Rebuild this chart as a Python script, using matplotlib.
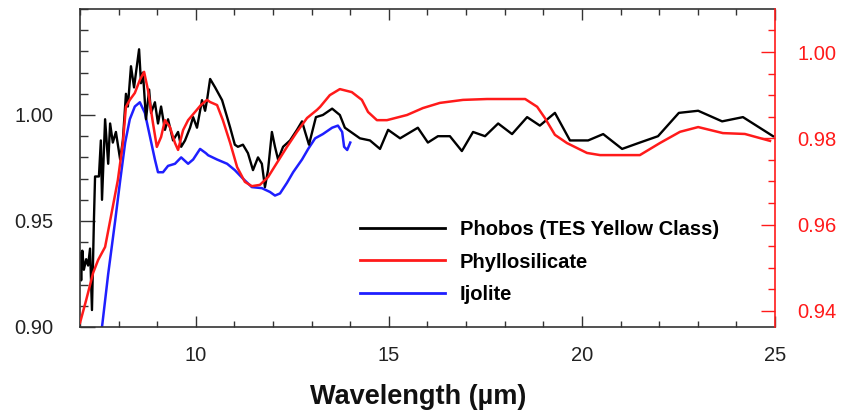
import matplotlib
matplotlib.use("Agg")
import matplotlib.pyplot as plt
from matplotlib.ticker import MultipleLocator, FormatStrFormatter

# ---------------- data ----------------
phobos_x = [7.00, 7.03, 7.06, 7.10, 7.16, 7.21, 7.26, 7.31, 7.36, 7.39, 7.49, 7.54,
            7.57, 7.65, 7.73, 7.78, 7.85, 7.93, 8.04, 8.11, 8.19, 8.24, 8.32, 8.40,
            8.45, 8.53, 8.58, 8.63, 8.71, 8.79, 8.84, 8.94, 9.02, 9.10, 9.20, 9.28,
            9.41, 9.54, 9.62, 9.72, 9.85, 9.93, 10.03, 10.16, 10.24, 10.29, 10.37,
            10.50, 10.68, 10.81, 10.89, 11.01, 11.09, 11.22, 11.35, 11.48, 11.61,
            11.71, 11.79, 11.87, 11.97, 12.05, 12.13, 12.26, 12.44, 12.62, 12.75,
            12.83, 12.93, 13.11, 13.29, 13.53, 13.73, 13.86, 14.25, 14.51, 14.77,
            14.98, 15.29, 15.75, 16.01, 16.27, 16.58, 16.89, 17.18, 17.49, 17.83,
            18.19, 18.58, 18.91, 19.30, 19.69, 20.16, 20.55, 21.04, 21.50, 21.97,
            22.51, 23.01, 23.63, 24.17, 24.95]
phobos_y = [0.935, 0.922, 0.936, 0.927, 0.932, 0.929, 0.937, 0.908, 0.950, 0.971,
            0.971, 0.988, 0.960, 0.998, 0.977, 0.996, 0.987, 0.992, 0.979, 0.988,
            1.010, 1.004, 1.023, 1.013, 1.020, 1.031, 1.015, 1.020, 0.998, 1.012,
            1.001, 1.006, 0.996, 1.004, 0.993, 0.998, 0.988, 0.992, 0.985, 0.988,
            0.994, 0.999, 0.994, 1.007, 1.002, 1.007, 1.017, 1.013, 1.007, 0.999,
            0.994, 0.986, 0.985, 0.986, 0.982, 0.974, 0.980, 0.977, 0.966, 0.974,
            0.992, 0.985, 0.979, 0.985, 0.988, 0.993, 0.997, 0.992, 0.986, 0.999,
            1.000, 1.003, 1.000, 0.994, 0.989, 0.988, 0.984, 0.993, 0.989, 0.994,
            0.987, 0.990, 0.990, 0.983, 0.992, 0.990, 0.996, 0.991, 0.999, 0.995,
            1.001, 0.988, 0.988, 0.991, 0.984, 0.987, 0.990, 1.001, 1.002, 0.997,
            0.999, 0.990]

phyllo_x = [7.00, 7.16, 7.34, 7.47, 7.65, 7.80, 7.98, 8.11, 8.19, 8.29, 8.42, 8.55,
            8.66, 8.76, 8.89, 8.99, 9.10, 9.20, 9.33, 9.46, 9.54, 9.67, 9.80, 9.98,
            10.13, 10.29, 10.37, 10.55, 10.70, 10.89, 11.07, 11.27, 11.45, 11.66,
            11.87, 12.10, 12.36, 12.62, 12.88, 13.14, 13.22, 13.47, 13.73, 14.04,
            14.30, 14.46, 14.69, 14.95, 15.47, 15.88, 16.32, 16.92, 17.54, 18.06,
            18.53, 18.84, 19.04, 19.30, 19.61, 20.13, 20.47, 21.50, 22.02, 22.54,
            23.01, 23.65, 24.22, 24.87]
phyllo_y = [0.9372, 0.9425, 0.9488, 0.9518, 0.9548, 0.9618, 0.9703, 0.9789, 0.9873,
            0.9889, 0.9905, 0.9935, 0.9954, 0.9912, 0.9835, 0.9780, 0.9803, 0.9842,
            0.9826, 0.9789, 0.9773, 0.9819, 0.9842, 0.9861, 0.9877, 0.9889, 0.9884,
            0.9877, 0.9842, 0.9789, 0.9733, 0.9699, 0.9689, 0.9692, 0.9710, 0.9743,
            0.9780, 0.9815, 0.9847, 0.9866, 0.9873, 0.9900, 0.9914, 0.9907, 0.9889,
            0.9861, 0.9842, 0.9842, 0.9854, 0.9870, 0.9882, 0.9889, 0.9891, 0.9891,
            0.9891, 0.9873, 0.9847, 0.9808, 0.9789, 0.9766, 0.9761, 0.9761, 0.9789,
            0.9815, 0.9826, 0.9812, 0.9810, 0.9794]

ijolite_x = [7.50, 7.57, 7.73, 7.91, 8.04, 8.17, 8.29, 8.42, 8.55, 8.68, 8.81, 8.94,
             9.02, 9.15, 9.28, 9.46, 9.62, 9.80, 9.93, 10.11, 10.26, 10.32, 10.55,
             10.81, 11.01, 11.22, 11.45, 11.71, 11.92, 12.05, 12.18, 12.36, 12.52,
             12.75, 12.91, 13.09, 13.29, 13.53, 13.68, 13.79, 13.84, 13.92, 14.00]
ijolite_y = [0.870, 0.900, 0.925, 0.950, 0.969, 0.987, 0.998, 1.004, 1.006, 1.001,
             0.990, 0.979, 0.973, 0.973, 0.976, 0.977, 0.980, 0.977, 0.979, 0.984,
             0.982, 0.981, 0.979, 0.977, 0.974, 0.970, 0.966, 0.9655, 0.9637, 0.962,
             0.963, 0.968, 0.973, 0.979, 0.984, 0.989, 0.991, 0.994, 0.995, 0.992,
             0.985, 0.9835, 0.987]

series_labels = ["Phobos (TES Yellow Class)", "Phyllosilicate", "Ijolite"]
left_ticks = [0.90, 0.95, 1.00]
right_ticks = [0.94, 0.96, 0.98, 1.00]
x_ticks = [10, 15, 20, 25]

# ---------------- figure ----------------
plt.rcParams["font.family"] = ["Liberation Sans", "DejaVu Sans"]
W, H = 842, 413
fig = plt.figure(figsize=(W / 100, H / 100), dpi=100)
ax = fig.add_axes([80 / W, 1 - 327 / H, 695 / W, 318 / H])
ax2 = ax.twinx()

axis_col = "#333333"
red = "#ff1a1a"
blue = "#1f1fff"

l_blue, = ax.plot(ijolite_x, ijolite_y, color=blue, lw=1.8, label=series_labels[2])
l_black, = ax.plot(phobos_x, phobos_y, color="black", lw=1.7, label=series_labels[0])
l_red, = ax2.plot(phyllo_x, phyllo_y, color=red, lw=1.8, label=series_labels[1])

ax.set_xlim(7, 25)
ax.set_ylim(0.90, 1.05)
ax2.set_ylim(0.93625, 1.00997)

ax.set_xticks(x_ticks)
ax.xaxis.set_minor_locator(MultipleLocator(1))
ax.set_yticks(left_ticks)
ax.yaxis.set_minor_locator(MultipleLocator(0.01))
ax.yaxis.set_major_formatter(FormatStrFormatter("%.2f"))
ax2.set_yticks(right_ticks)
ax2.yaxis.set_minor_locator(MultipleLocator(0.005))
ax2.yaxis.set_major_formatter(FormatStrFormatter("%.2f"))

for s in ["left", "top", "bottom"]:
    ax.spines[s].set_color(axis_col)
    ax.spines[s].set_linewidth(1.2)
    ax2.spines[s].set_visible(False)
ax.spines["right"].set_visible(False)
ax2.spines["right"].set_color(red)
ax2.spines["right"].set_linewidth(1.2)

ax.tick_params(axis="x", which="both", direction="in", top=True, bottom=True,
               color=axis_col, width=1.0, labelsize=14.5, pad=14, labelcolor="#222222")
ax.tick_params(axis="x", which="major", length=8)
ax.tick_params(axis="x", which="minor", length=4)
ax.tick_params(axis="y", which="both", direction="in", left=True, right=False,
               color=axis_col, width=1.0, labelsize=14.5, pad=19, labelcolor="#222222")
ax.tick_params(axis="y", which="major", length=11)
ax.tick_params(axis="y", which="minor", length=5.5)
ax2.tick_params(axis="y", which="both", direction="in", right=True, left=False,
                color=red, width=1.0, labelsize=14.5, pad=16, labelcolor=red)
ax2.tick_params(axis="y", which="major", length=10)
ax2.tick_params(axis="y", which="minor", length=5)

ax.set_xlabel("Wavelength (\u00b5m)", fontsize=19.5, fontweight="bold", labelpad=13,
              color="#111111")
ax.xaxis.label.set_x(0.486)

leg = ax2.legend(handles=[l_black, l_red, l_blue], labels=series_labels,
                 loc="upper left", bbox_to_anchor=(0.4029, 0.337), frameon=False,
                 borderpad=0, borderaxespad=0, handlelength=4.2, handletextpad=0.75,
                 labelspacing=0.68, prop={"weight": "bold", "size": 14.5})
for h in leg.legend_handles:
    h.set_linewidth(2.0)

fig.savefig("out.png", dpi=100)
